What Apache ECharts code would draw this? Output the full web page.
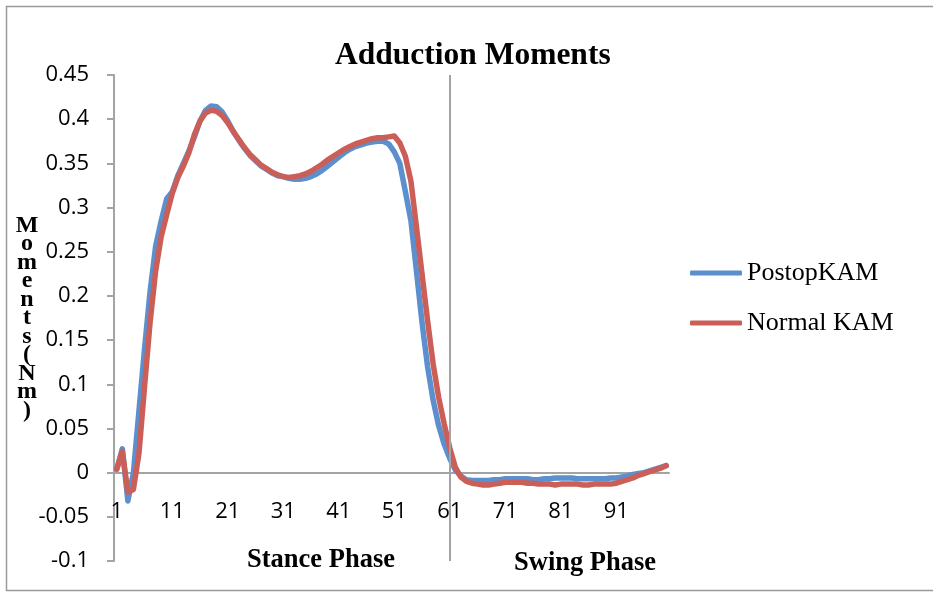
<!DOCTYPE html>
<html>
<head>
<meta charset="utf-8">
<script src="https://cdn.jsdelivr.net/npm/echarts@6/dist/echarts.min.js"></script>
<style>
  html, body { margin: 0; padding: 0; background: #fff; }
  #chart { width: 933px; height: 592px; }
</style>
</head>
<body>
<div id="chart"></div>
<script>
// Gait cycle percentage, 1..100
const gaitPoints = Array.from({ length: 100 }, (_, i) => String(i + 1));

// Knee adduction moment (Nm), post-operative
const postopKAM = [
  0.004, 0.027, -0.032, 0.000, 0.070, 0.140, 0.205, 0.256, 0.285, 0.310,
  0.318, 0.336, 0.350, 0.364, 0.380, 0.398, 0.410, 0.415, 0.414, 0.408,
  0.398, 0.386, 0.376, 0.367, 0.359, 0.353, 0.347, 0.343, 0.339, 0.336,
  0.335, 0.333, 0.332, 0.332, 0.333, 0.335, 0.338, 0.342, 0.347, 0.352,
  0.357, 0.362, 0.366, 0.369, 0.371, 0.373, 0.374, 0.375, 0.375, 0.372,
  0.363, 0.350, 0.318, 0.285, 0.228, 0.170, 0.120, 0.082, 0.053, 0.032,
  0.016, 0.003, -0.004, -0.008, -0.009, -0.009, -0.009, -0.009, -0.008, -0.008,
  -0.007, -0.007, -0.007, -0.007, -0.007, -0.008, -0.008, -0.007, -0.007, -0.006,
  -0.006, -0.006, -0.006, -0.007, -0.007, -0.007, -0.007, -0.007, -0.007, -0.006,
  -0.006, -0.005, -0.004, -0.002, -0.001, 0.000, 0.002, 0.004, 0.006, 0.008
];

// Knee adduction moment (Nm), normal subjects
const normalKAM = [
  0.004, 0.024, -0.022, -0.019, 0.022, 0.097, 0.170, 0.228, 0.267, 0.292,
  0.316, 0.334, 0.347, 0.362, 0.383, 0.398, 0.407, 0.410, 0.409, 0.404,
  0.396, 0.386, 0.377, 0.368, 0.360, 0.354, 0.348, 0.344, 0.340, 0.337,
  0.335, 0.334, 0.335, 0.336, 0.338, 0.341, 0.345, 0.349, 0.354, 0.358,
  0.362, 0.366, 0.369, 0.372, 0.374, 0.376, 0.378, 0.379, 0.379, 0.380,
  0.381, 0.373, 0.358, 0.330, 0.278, 0.225, 0.172, 0.123, 0.085, 0.055,
  0.028, 0.006, -0.005, -0.010, -0.012, -0.013, -0.014, -0.014, -0.013, -0.012,
  -0.011, -0.011, -0.011, -0.011, -0.012, -0.012, -0.013, -0.013, -0.013, -0.014,
  -0.013, -0.013, -0.013, -0.013, -0.014, -0.014, -0.013, -0.013, -0.013, -0.013,
  -0.012, -0.010, -0.008, -0.006, -0.003, -0.001, 0.001, 0.003, 0.005, 0.008
];

// Toe-off: boundary between stance and swing
const toeOff = '61';

// Y axis range and step
const yMin = -0.1;
const yMax = 0.45;
const yStep = 0.05;

const seriesNames = ['PostopKAM', 'Normal KAM'];
const phaseLabels = ['Stance Phase', 'Swing Phase'];

const serif = '"Liberation Serif", "Times New Roman", serif';
const sans = '"Open Sans", "Noto Sans", sans-serif';
const axisGray = '#a3a3a3';
const blue = '#5b8fcd';
const red = '#cb5f58';

const gridBox = { left: 114, right: 264, top: 75, bottom: 31 };
const gridHeight = 592 - gridBox.top - gridBox.bottom;
// Lift the category axis so it runs along y = 0
const zeroLift = gridHeight * (0 - yMin) / (yMax - yMin);

const chart = echarts.init(document.getElementById('chart'), null, { renderer: 'canvas' });

chart.setOption({
  animation: false,
  backgroundColor: '#ffffff',
  title: {
    text: 'Adduction Moments',
    left: 335,
    top: 40,
    padding: 0,
    textStyle: { fontFamily: serif, fontWeight: 'bold', fontSize: 31.5, color: '#000' }
  },
  legend: {
    orient: 'vertical',
    left: 690,
    top: 260,
    padding: 0,
    icon: 'roundRect',
    itemWidth: 52,
    itemHeight: 5,
    itemGap: 24,
    data: seriesNames,
    textStyle: { fontFamily: serif, fontSize: 26, color: '#000' }
  },
  grid: Object.assign({ containLabel: false, outerBoundsMode: 'none' }, gridBox),
  xAxis: {
    type: 'category',
    data: gaitPoints,
    boundaryGap: true,
    offset: -zeroLift,
    axisLine: { onZero: false, lineStyle: { color: axisGray, width: 2 } },
    axisTick: { show: false },
    axisLabel: {
      interval: 9,
      margin: 28,
      fontFamily: sans,
      fontSize: 22,
      color: '#000'
    },
    splitLine: { show: false }
  },
  yAxis: {
    type: 'value',
    min: yMin,
    max: yMax,
    interval: yStep,
    name: 'M\no\nm\ne\nn\nt\ns\n(\nN\nm\n)',
    nameLocation: 'middle',
    nameRotate: 0,
    nameGap: 87,
    nameMoveOverlap: false,
    nameTextStyle: {
      fontFamily: serif,
      fontWeight: 'bold',
      fontSize: 24,
      lineHeight: 18.5,
      color: '#000',
      align: 'center',
      verticalAlign: 'middle'
    },
    axisLine: { show: true, lineStyle: { color: axisGray, width: 2 } },
    axisTick: { show: true, length: 7, lineStyle: { color: axisGray, width: 2 } },
    axisLabel: {
      margin: 25,
      padding: [6, 0, 0, 0],
      fontFamily: sans,
      fontSize: 22,
      color: '#000',
      formatter: v => String(+v.toFixed(2))
    },
    splitLine: { show: false }
  },
  series: [
    {
      name: seriesNames[0],
      type: 'line',
      data: postopKAM,
      showSymbol: false,
      symbol: 'none',
      color: blue,
      lineStyle: { width: 5.5, color: blue, cap: 'round', join: 'round' },
      z: 2,
      markLine: {
        silent: true,
        symbol: ['none', 'none'],
        label: { show: false },
        lineStyle: { color: axisGray, width: 2, type: 'solid' },
        data: [{ xAxis: toeOff }]
      }
    },
    {
      name: seriesNames[1],
      type: 'line',
      data: normalKAM,
      showSymbol: false,
      symbol: 'none',
      color: red,
      lineStyle: { width: 5.5, color: red, cap: 'round', join: 'round' },
      z: 3
    }
  ],
  graphic: [
    {
      type: 'rect',
      shape: { x: 6.5, y: 6.5, width: 930, height: 584 },
      style: { fill: 'none', stroke: '#9a9a9a', lineWidth: 1.5 },
      silent: true,
      z: -1
    },
    {
      type: 'text',
      left: 247,
      top: 547,
      style: { text: phaseLabels[0], fontFamily: serif, fontWeight: 'bold', fontSize: 26.5, fill: '#000' }
    },
    {
      type: 'text',
      left: 514,
      top: 550,
      style: { text: phaseLabels[1], fontFamily: serif, fontWeight: 'bold', fontSize: 26.5, fill: '#000' }
    }
  ]
});
</script>
</body>
</html>
